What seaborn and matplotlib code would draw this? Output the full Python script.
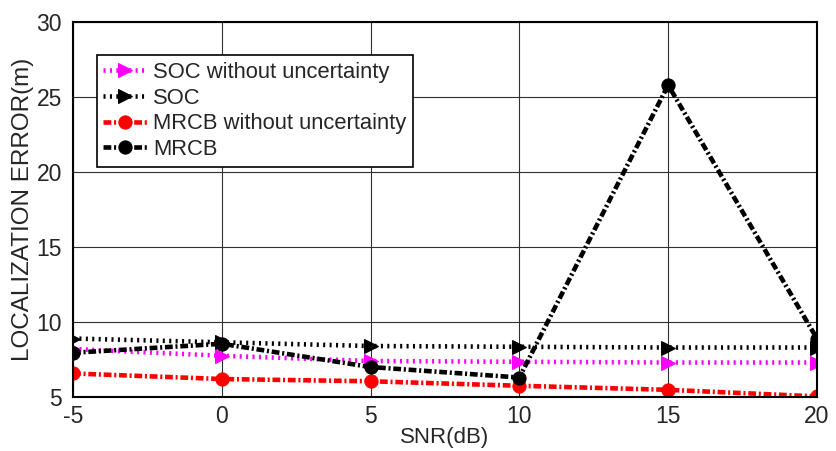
import numpy as np
import matplotlib
matplotlib.use("Agg")
import matplotlib.pyplot as plt
import pandas as pd
import seaborn as sns

# data
snr = [-5, 0, 5, 10, 15, 20]
soc_wo = [8.2, 7.75, 7.4, 7.35, 7.3, 7.3]
soc = [8.9, 8.65, 8.4, 8.35, 8.3, 8.3]
mrcb_wo = [6.57, 6.2, 6.05, 5.75, 5.48, 5.04]
mrcb = [7.95, 8.55, 7.0, 6.3, 25.8, 8.9]

names = ["SOC without uncertainty", "SOC", "MRCB without uncertainty", "MRCB"]
series = [soc_wo, soc, mrcb_wo, mrcb]
colors = ["#ff00ff", "black", "red", "black"]
markers = [">", ">", "o", "o"]
# dash patterns in units of line width (matlab ':' and '-.')
dashes = [(0.45, 0.95), (0.45, 0.95), (1.7, 0.6, 0.45, 0.6), (1.7, 0.6, 0.45, 0.6)]

sns.set_style("white")
plt.rcParams['font.family'] = ['Liberation Sans', 'DejaVu Sans']
plt.rcParams['axes.unicode_minus'] = False

fig, ax = plt.subplots(figsize=(8.37, 4.51), dpi=100)
fig.subplots_adjust(left=0.0872, right=0.976, top=0.951, bottom=0.1197)

for name, vals, c, m, d in zip(names, series, colors, markers, dashes):
    df = pd.DataFrame({"SNR": snr, "err": vals})
    sns.lineplot(data=df, x="SNR", y="err", ax=ax, color=c, marker=m,
                 markersize=9.5, markeredgecolor=c, linewidth=3.3, label=name)
    ax.lines[-1].set_dashes(d)

ax.set_xlim(-5, 20)
ax.set_ylim(5, 30)
ax.set_xticks(snr)
ax.set_yticks([5, 10, 15, 20, 25, 30])
ax.grid(True, color="#303030", linewidth=0.8)
ax.tick_params(direction="in", labelsize=16.5, length=5, color="black", pad=8)
ax.tick_params(axis="x", pad=6)
for s in ax.spines.values():
    s.set_color("black")
    s.set_linewidth(1.5)
ax.set_xlabel("SNR(dB)", fontsize=16, labelpad=-1)
ax.set_ylabel("LOCALIZATION ERROR(m)", fontsize=17.5, labelpad=2)

leg = ax.legend(loc="upper left", bbox_to_anchor=(0.032, 0.912), fontsize=15.8,
                frameon=True, fancybox=False, edgecolor="black", framealpha=1,
                borderpad=0.3, labelspacing=0.22, handlelength=2.0,
                handletextpad=0.25, borderaxespad=0)
leg.get_frame().set_linewidth(1.2)

fig.savefig("out.png", dpi=100)
